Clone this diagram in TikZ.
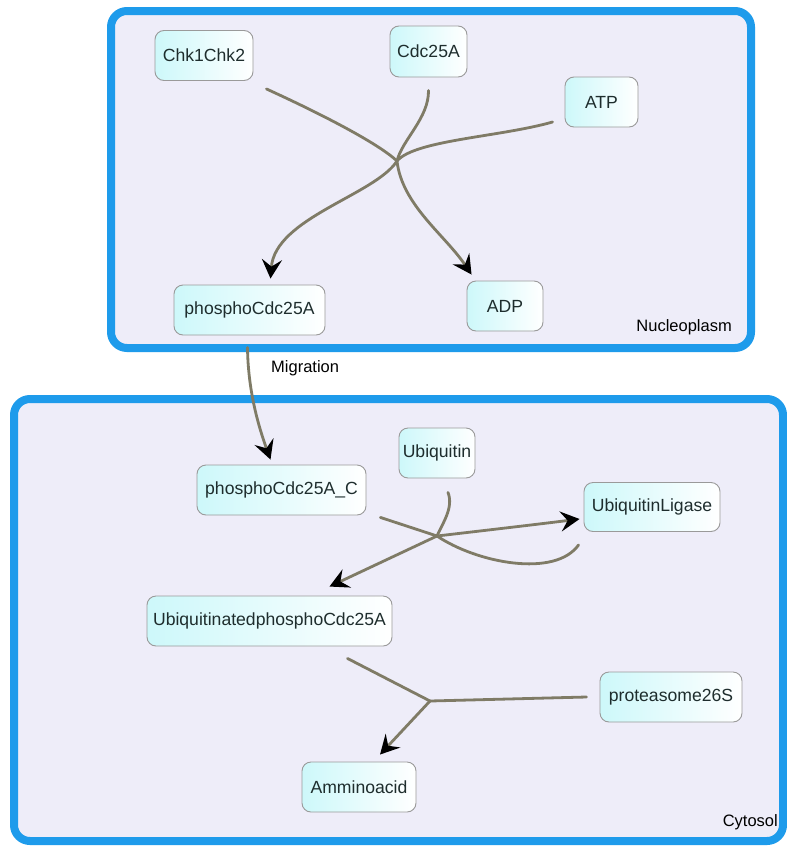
\documentclass[tikz,border=0pt]{standalone}
\usepackage{fontspec}
\setmainfont{Liberation Sans}
\usetikzlibrary{arrows.meta,calc}
\definecolor{comp}{HTML}{1E9BEB}
\definecolor{compfill}{HTML}{EEEDF9}
\definecolor{edgec}{HTML}{7F7B66}
\definecolor{nodel}{HTML}{CDF8FA}
\definecolor{nodeb}{HTML}{9A9A9A}
\definecolor{txt}{HTML}{1E2D2D}
\tikzset{
 species/.style={draw=nodeb, line width=0.9pt, rounded corners=9pt, left color=nodel, right color=white, text=txt, font=\fontsize{17.6}{20}\selectfont, inner sep=0pt, minimum height=50pt},
 compartment/.style={draw=comp, line width=8pt, fill=compfill, rounded corners=16pt},
 rxn/.style={draw=edgec, line width=2.8pt, line cap=round},
 prod/.style={rxn, -{Stealth[length=19pt,width=20pt,inset=7pt,color=black]}},
 lbl/.style={font=\fontsize{16.5}{19}\selectfont, text=black, inner sep=0pt}
}
\begin{document}
\begin{tikzpicture}[x=1pt,y=-1pt]
\useasboundingbox (0,0) rectangle (787,846);
\fill[white] (0,0) rectangle (787,846);
% compartments
\draw[compartment] (111,11) rectangle (751,348);
\draw[compartment] (14,399) rectangle (783,841);
\node[lbl, anchor=east] (nuclbl) at (732,327) {Nucleoplasm};
\node[lbl, anchor=east] (cytlbl) at (778,822) {Cytosol};
\node[lbl, anchor=west] (miglbl) at (271,368) {Migration};
% species
\node[species, minimum width=98pt] (chk) at (204,55.5) {Chk1Chk2};
\node[species, minimum width=77pt, minimum height=51pt] (cdc) at (428.5,51.5) {Cdc25A};
\node[species, minimum width=73pt] (atp) at (601.5,102) {ATP};
\node[species, minimum width=151pt] (phos) at (249.5,310) {phosphoCdc25A};
\node[species, minimum width=76pt] (adp) at (505,306) {ADP};
\node[species, minimum width=169pt] (phosC) at (281.5,490) {phosphoCdc25A\_C};
\node[species, minimum width=76pt] (ubq) at (437,453) {Ubiquitin};
\node[species, minimum width=136pt, minimum height=49pt] (lig) at (652,507) {UbiquitinLigase};
\node[species, minimum width=245pt] (ubd) at (269.5,621) {UbiquitinatedphosphoCdc25A};
\node[species, minimum width=142pt] (prot) at (671,697) {proteasome26S};
\node[species, minimum width=114pt] (amm) at (359,787) {Amminoacid};
% reaction hubs
\coordinate (h1) at (397,161);
\coordinate (h2) at (437,536);
\coordinate (h3) at (430,701);
% reaction 1
\draw[rxn] ([shift={(13,8)}]chk.south east) .. controls (330,118) and (380,145) .. (h1);
\draw[rxn] ([shift={(0,13)}]cdc.south) .. controls (429,118) and (402,140) .. (h1);
\draw[rxn] ([shift={(-12,20)}]atp.west) .. controls (500,137) and (415,140) .. (h1);
\draw[prod] (h1) .. controls (375,195) and (275,218) .. ([shift={(21,-6)}]phos.north);
\draw[prod] (h1) .. controls (402,205) and (445,235) .. ([shift={(5,-6)}]adp.north west);
% migration
\draw[prod] ([shift={(-2,12)}]phos.south) .. controls (248,390) and (258,425) .. ([shift={(-11,-5)}]phosC.north);
% reaction 2
\draw[rxn] ([shift={(14,2)}]phosC.south east) -- (h2);
\draw[rxn] ([shift={(11,14)}]ubq.south) .. controls (454,508) and (442,524) .. (h2);
\draw[rxn] (h2) .. controls (477,563) and (555,578) .. ([shift={(-5,13)}]lig.south west);
\draw[prod] (h2) .. controls (480,531) and (540,524) .. ([shift={(-4,12)}]lig.west);
\draw[prod] (h2) -- ([shift={(60,-9)}]ubd.north);
% reaction 3
\draw[rxn] ([shift={(78,12)}]ubd.south) -- (h3);
\draw[rxn] ([shift={(-13,0)}]prot.west) -- (h3);
\draw[prod] (h3) -- ([shift={(21,-7)}]amm.north);
\end{tikzpicture}
\end{document}
